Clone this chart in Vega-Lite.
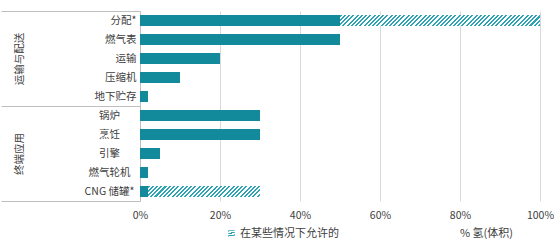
{
  "$schema": "https://vega.github.io/schema/vega-lite/v6.json",
  "width": 400,
  "height": 190,
  "padding": {"left": 0, "top": 10, "right": 0, "bottom": 0},
  "config": {
    "font": "Noto Sans CJK SC",
    "view": {"stroke": null},
    "axis": {"labelFont": "Noto Sans CJK SC", "titleFont": "Noto Sans CJK SC", "labelColor": "#404040", "titleColor": "#404040"}
  },
  "datasets": {
    "items": [
      {"item": "分配*", "group": "运输与配送", "solid": 0.5, "allowed": 1.0},
      {"item": "燃气表", "group": "运输与配送", "solid": 0.5, "allowed": null},
      {"item": "运输", "group": "运输与配送", "solid": 0.2, "allowed": null},
      {"item": "压缩机", "group": "运输与配送", "solid": 0.1, "allowed": null},
      {"item": "地下贮存", "group": "运输与配送", "solid": 0.02, "allowed": null},
      {"item": "锅炉", "group": "终端应用", "solid": 0.3, "allowed": null},
      {"item": "烹饪", "group": "终端应用", "solid": 0.3, "allowed": null},
      {"item": "引擎", "group": "终端应用", "solid": 0.05, "allowed": null},
      {"item": "燃气轮机", "group": "终端应用", "solid": 0.02, "allowed": null},
      {"item": "CNG 储罐*", "group": "终端应用", "solid": 0.02, "allowed": 0.3}
    ],
    "groups": [
      {"group": "运输与配送"},
      {"group": "终端应用"}
    ]
  },
  "layer": [
    {
      "data": {"name": "items"},
      "layer": [
        {
          "mark": {"type": "bar", "color": "#138A9B"},
          "encoding": {
            "y": {
              "field": "item", "type": "nominal", "sort": null,
              "scale": {"paddingInner": 0.42, "paddingOuter": 0.21},
              "axis": {
                "orient": "left", "title": null, "domain": false, "ticks": false,
                "labelFontSize": 10.5,
                "labelAlign": {"condition": {"test": "datum.value == '锅炉' || datum.value == '烹饪' || datum.value == '引擎' || datum.value == '燃气轮机' || datum.value == 'CNG 储罐*'", "value": "center"}, "value": "right"},
                "labelPadding": {"condition": {"test": "datum.value == '锅炉' || datum.value == '烹饪' || datum.value == '引擎' || datum.value == '燃气轮机' || datum.value == 'CNG 储罐*'", "value": 31}, "value": 4}
              }
            },
            "x": {
              "field": "solid", "type": "quantitative",
              "scale": {"domain": [0, 1], "nice": false},
              "axis": {
                "format": ".0%", "values": [0, 0.2, 0.4, 0.6, 0.8, 1],
                "grid": true, "gridColor": "#D9D9D9", "domain": false, "ticks": false,
                "labelFontSize": 10.5, "labelPadding": 9, "labelFlush": false, "labelOverlap": false,
                "title": "% 氢(体积)", "titleFontSize": 11, "titleFontWeight": "normal",
                "titleX": 346, "titleY": 32, "titleAlign": "center", "titleBaseline": "middle"
              }
            }
          }
        },
        {
          "transform": [{"filter": "datum.allowed != null"}],
          "mark": {"type": "bar", "strokeWidth": 0},
          "encoding": {
            "y": {"field": "item", "type": "nominal", "sort": null},
            "x": {"field": "solid", "type": "quantitative"},
            "x2": {"field": "allowed"},
            "fill": {
              "condition": {
                "test": "datum.item === '分配*'",
                "value": {"gradient": "linear", "x1": 0, "y1": 0, "x2": 1.06, "y2": 0.0584, "stops": [
                  {"offset":0,"color":"#2fa3b6"},{"offset":0.01,"color":"#2fa3b6"},{"offset":0.01,"color":"#fff"},{"offset":0.02,"color":"#fff"},
                  {"offset":0.02,"color":"#2fa3b6"},{"offset":0.03,"color":"#2fa3b6"},{"offset":0.03,"color":"#fff"},{"offset":0.04,"color":"#fff"},
                  {"offset":0.04,"color":"#2fa3b6"},{"offset":0.05,"color":"#2fa3b6"},{"offset":0.05,"color":"#fff"},{"offset":0.06,"color":"#fff"},
                  {"offset":0.06,"color":"#2fa3b6"},{"offset":0.07,"color":"#2fa3b6"},{"offset":0.07,"color":"#fff"},{"offset":0.08,"color":"#fff"},
                  {"offset":0.08,"color":"#2fa3b6"},{"offset":0.09,"color":"#2fa3b6"},{"offset":0.09,"color":"#fff"},{"offset":0.10,"color":"#fff"},
                  {"offset":0.10,"color":"#2fa3b6"},{"offset":0.11,"color":"#2fa3b6"},{"offset":0.11,"color":"#fff"},{"offset":0.12,"color":"#fff"},
                  {"offset":0.12,"color":"#2fa3b6"},{"offset":0.13,"color":"#2fa3b6"},{"offset":0.13,"color":"#fff"},{"offset":0.14,"color":"#fff"},
                  {"offset":0.14,"color":"#2fa3b6"},{"offset":0.15,"color":"#2fa3b6"},{"offset":0.15,"color":"#fff"},{"offset":0.16,"color":"#fff"},
                  {"offset":0.16,"color":"#2fa3b6"},{"offset":0.17,"color":"#2fa3b6"},{"offset":0.17,"color":"#fff"},{"offset":0.18,"color":"#fff"},
                  {"offset":0.18,"color":"#2fa3b6"},{"offset":0.19,"color":"#2fa3b6"},{"offset":0.19,"color":"#fff"},{"offset":0.20,"color":"#fff"},
                  {"offset":0.20,"color":"#2fa3b6"},{"offset":0.21,"color":"#2fa3b6"},{"offset":0.21,"color":"#fff"},{"offset":0.22,"color":"#fff"},
                  {"offset":0.22,"color":"#2fa3b6"},{"offset":0.23,"color":"#2fa3b6"},{"offset":0.23,"color":"#fff"},{"offset":0.24,"color":"#fff"},
                  {"offset":0.24,"color":"#2fa3b6"},{"offset":0.25,"color":"#2fa3b6"},{"offset":0.25,"color":"#fff"},{"offset":0.26,"color":"#fff"},
                  {"offset":0.26,"color":"#2fa3b6"},{"offset":0.27,"color":"#2fa3b6"},{"offset":0.27,"color":"#fff"},{"offset":0.28,"color":"#fff"},
                  {"offset":0.28,"color":"#2fa3b6"},{"offset":0.29,"color":"#2fa3b6"},{"offset":0.29,"color":"#fff"},{"offset":0.30,"color":"#fff"},
                  {"offset":0.30,"color":"#2fa3b6"},{"offset":0.31,"color":"#2fa3b6"},{"offset":0.31,"color":"#fff"},{"offset":0.32,"color":"#fff"},
                  {"offset":0.32,"color":"#2fa3b6"},{"offset":0.33,"color":"#2fa3b6"},{"offset":0.33,"color":"#fff"},{"offset":0.34,"color":"#fff"},
                  {"offset":0.34,"color":"#2fa3b6"},{"offset":0.35,"color":"#2fa3b6"},{"offset":0.35,"color":"#fff"},{"offset":0.36,"color":"#fff"},
                  {"offset":0.36,"color":"#2fa3b6"},{"offset":0.37,"color":"#2fa3b6"},{"offset":0.37,"color":"#fff"},{"offset":0.38,"color":"#fff"},
                  {"offset":0.38,"color":"#2fa3b6"},{"offset":0.39,"color":"#2fa3b6"},{"offset":0.39,"color":"#fff"},{"offset":0.40,"color":"#fff"},
                  {"offset":0.40,"color":"#2fa3b6"},{"offset":0.41,"color":"#2fa3b6"},{"offset":0.41,"color":"#fff"},{"offset":0.42,"color":"#fff"},
                  {"offset":0.42,"color":"#2fa3b6"},{"offset":0.43,"color":"#2fa3b6"},{"offset":0.43,"color":"#fff"},{"offset":0.44,"color":"#fff"},
                  {"offset":0.44,"color":"#2fa3b6"},{"offset":0.45,"color":"#2fa3b6"},{"offset":0.45,"color":"#fff"},{"offset":0.46,"color":"#fff"},
                  {"offset":0.46,"color":"#2fa3b6"},{"offset":0.47,"color":"#2fa3b6"},{"offset":0.47,"color":"#fff"},{"offset":0.48,"color":"#fff"},
                  {"offset":0.48,"color":"#2fa3b6"},{"offset":0.49,"color":"#2fa3b6"},{"offset":0.49,"color":"#fff"},{"offset":0.50,"color":"#fff"},
                  {"offset":0.50,"color":"#2fa3b6"},{"offset":0.51,"color":"#2fa3b6"},{"offset":0.51,"color":"#fff"},{"offset":0.52,"color":"#fff"},
                  {"offset":0.52,"color":"#2fa3b6"},{"offset":0.53,"color":"#2fa3b6"},{"offset":0.53,"color":"#fff"},{"offset":0.54,"color":"#fff"},
                  {"offset":0.54,"color":"#2fa3b6"},{"offset":0.55,"color":"#2fa3b6"},{"offset":0.55,"color":"#fff"},{"offset":0.56,"color":"#fff"},
                  {"offset":0.56,"color":"#2fa3b6"},{"offset":0.57,"color":"#2fa3b6"},{"offset":0.57,"color":"#fff"},{"offset":0.58,"color":"#fff"},
                  {"offset":0.58,"color":"#2fa3b6"},{"offset":0.59,"color":"#2fa3b6"},{"offset":0.59,"color":"#fff"},{"offset":0.60,"color":"#fff"},
                  {"offset":0.60,"color":"#2fa3b6"},{"offset":0.61,"color":"#2fa3b6"},{"offset":0.61,"color":"#fff"},{"offset":0.62,"color":"#fff"},
                  {"offset":0.62,"color":"#2fa3b6"},{"offset":0.63,"color":"#2fa3b6"},{"offset":0.63,"color":"#fff"},{"offset":0.64,"color":"#fff"},
                  {"offset":0.64,"color":"#2fa3b6"},{"offset":0.65,"color":"#2fa3b6"},{"offset":0.65,"color":"#fff"},{"offset":0.66,"color":"#fff"},
                  {"offset":0.66,"color":"#2fa3b6"},{"offset":0.67,"color":"#2fa3b6"},{"offset":0.67,"color":"#fff"},{"offset":0.68,"color":"#fff"},
                  {"offset":0.68,"color":"#2fa3b6"},{"offset":0.69,"color":"#2fa3b6"},{"offset":0.69,"color":"#fff"},{"offset":0.70,"color":"#fff"},
                  {"offset":0.70,"color":"#2fa3b6"},{"offset":0.71,"color":"#2fa3b6"},{"offset":0.71,"color":"#fff"},{"offset":0.72,"color":"#fff"},
                  {"offset":0.72,"color":"#2fa3b6"},{"offset":0.73,"color":"#2fa3b6"},{"offset":0.73,"color":"#fff"},{"offset":0.74,"color":"#fff"},
                  {"offset":0.74,"color":"#2fa3b6"},{"offset":0.75,"color":"#2fa3b6"},{"offset":0.75,"color":"#fff"},{"offset":0.76,"color":"#fff"},
                  {"offset":0.76,"color":"#2fa3b6"},{"offset":0.77,"color":"#2fa3b6"},{"offset":0.77,"color":"#fff"},{"offset":0.78,"color":"#fff"},
                  {"offset":0.78,"color":"#2fa3b6"},{"offset":0.79,"color":"#2fa3b6"},{"offset":0.79,"color":"#fff"},{"offset":0.80,"color":"#fff"},
                  {"offset":0.80,"color":"#2fa3b6"},{"offset":0.81,"color":"#2fa3b6"},{"offset":0.81,"color":"#fff"},{"offset":0.82,"color":"#fff"},
                  {"offset":0.82,"color":"#2fa3b6"},{"offset":0.83,"color":"#2fa3b6"},{"offset":0.83,"color":"#fff"},{"offset":0.84,"color":"#fff"},
                  {"offset":0.84,"color":"#2fa3b6"},{"offset":0.85,"color":"#2fa3b6"},{"offset":0.85,"color":"#fff"},{"offset":0.86,"color":"#fff"},
                  {"offset":0.86,"color":"#2fa3b6"},{"offset":0.87,"color":"#2fa3b6"},{"offset":0.87,"color":"#fff"},{"offset":0.88,"color":"#fff"},
                  {"offset":0.88,"color":"#2fa3b6"},{"offset":0.89,"color":"#2fa3b6"},{"offset":0.89,"color":"#fff"},{"offset":0.90,"color":"#fff"},
                  {"offset":0.90,"color":"#2fa3b6"},{"offset":0.91,"color":"#2fa3b6"},{"offset":0.91,"color":"#fff"},{"offset":0.92,"color":"#fff"},
                  {"offset":0.92,"color":"#2fa3b6"},{"offset":0.93,"color":"#2fa3b6"},{"offset":0.93,"color":"#fff"},{"offset":0.94,"color":"#fff"},
                  {"offset":0.94,"color":"#2fa3b6"},{"offset":0.95,"color":"#2fa3b6"},{"offset":0.95,"color":"#fff"},{"offset":0.96,"color":"#fff"},
                  {"offset":0.96,"color":"#2fa3b6"},{"offset":0.97,"color":"#2fa3b6"},{"offset":0.97,"color":"#fff"},{"offset":0.98,"color":"#fff"},
                  {"offset":0.98,"color":"#2fa3b6"},{"offset":0.99,"color":"#2fa3b6"},{"offset":0.99,"color":"#fff"},{"offset":1,"color":"#fff"}
                ]}
              },
              "value": {"gradient": "linear", "x1": 0, "y1": 0, "x2": 1.88, "y2": 0.185, "stops": [
                {"offset":0,"color":"#2fa3b6"},{"offset":0.01,"color":"#2fa3b6"},{"offset":0.01,"color":"#fff"},{"offset":0.02,"color":"#fff"},
                {"offset":0.02,"color":"#2fa3b6"},{"offset":0.03,"color":"#2fa3b6"},{"offset":0.03,"color":"#fff"},{"offset":0.04,"color":"#fff"},
                {"offset":0.04,"color":"#2fa3b6"},{"offset":0.05,"color":"#2fa3b6"},{"offset":0.05,"color":"#fff"},{"offset":0.06,"color":"#fff"},
                {"offset":0.06,"color":"#2fa3b6"},{"offset":0.07,"color":"#2fa3b6"},{"offset":0.07,"color":"#fff"},{"offset":0.08,"color":"#fff"},
                {"offset":0.08,"color":"#2fa3b6"},{"offset":0.09,"color":"#2fa3b6"},{"offset":0.09,"color":"#fff"},{"offset":0.10,"color":"#fff"},
                {"offset":0.10,"color":"#2fa3b6"},{"offset":0.11,"color":"#2fa3b6"},{"offset":0.11,"color":"#fff"},{"offset":0.12,"color":"#fff"},
                {"offset":0.12,"color":"#2fa3b6"},{"offset":0.13,"color":"#2fa3b6"},{"offset":0.13,"color":"#fff"},{"offset":0.14,"color":"#fff"},
                {"offset":0.14,"color":"#2fa3b6"},{"offset":0.15,"color":"#2fa3b6"},{"offset":0.15,"color":"#fff"},{"offset":0.16,"color":"#fff"},
                {"offset":0.16,"color":"#2fa3b6"},{"offset":0.17,"color":"#2fa3b6"},{"offset":0.17,"color":"#fff"},{"offset":0.18,"color":"#fff"},
                {"offset":0.18,"color":"#2fa3b6"},{"offset":0.19,"color":"#2fa3b6"},{"offset":0.19,"color":"#fff"},{"offset":0.20,"color":"#fff"},
                {"offset":0.20,"color":"#2fa3b6"},{"offset":0.21,"color":"#2fa3b6"},{"offset":0.21,"color":"#fff"},{"offset":0.22,"color":"#fff"},
                {"offset":0.22,"color":"#2fa3b6"},{"offset":0.23,"color":"#2fa3b6"},{"offset":0.23,"color":"#fff"},{"offset":0.24,"color":"#fff"},
                {"offset":0.24,"color":"#2fa3b6"},{"offset":0.25,"color":"#2fa3b6"},{"offset":0.25,"color":"#fff"},{"offset":0.26,"color":"#fff"},
                {"offset":0.26,"color":"#2fa3b6"},{"offset":0.27,"color":"#2fa3b6"},{"offset":0.27,"color":"#fff"},{"offset":0.28,"color":"#fff"},
                {"offset":0.28,"color":"#2fa3b6"},{"offset":0.29,"color":"#2fa3b6"},{"offset":0.29,"color":"#fff"},{"offset":0.30,"color":"#fff"},
                {"offset":0.30,"color":"#2fa3b6"},{"offset":0.31,"color":"#2fa3b6"},{"offset":0.31,"color":"#fff"},{"offset":0.32,"color":"#fff"},
                {"offset":0.32,"color":"#2fa3b6"},{"offset":0.33,"color":"#2fa3b6"},{"offset":0.33,"color":"#fff"},{"offset":0.34,"color":"#fff"},
                {"offset":0.34,"color":"#2fa3b6"},{"offset":0.35,"color":"#2fa3b6"},{"offset":0.35,"color":"#fff"},{"offset":0.36,"color":"#fff"},
                {"offset":0.36,"color":"#2fa3b6"},{"offset":0.37,"color":"#2fa3b6"},{"offset":0.37,"color":"#fff"},{"offset":0.38,"color":"#fff"},
                {"offset":0.38,"color":"#2fa3b6"},{"offset":0.39,"color":"#2fa3b6"},{"offset":0.39,"color":"#fff"},{"offset":0.40,"color":"#fff"},
                {"offset":0.40,"color":"#2fa3b6"},{"offset":0.41,"color":"#2fa3b6"},{"offset":0.41,"color":"#fff"},{"offset":0.42,"color":"#fff"},
                {"offset":0.42,"color":"#2fa3b6"},{"offset":0.43,"color":"#2fa3b6"},{"offset":0.43,"color":"#fff"},{"offset":0.44,"color":"#fff"},
                {"offset":0.44,"color":"#2fa3b6"},{"offset":0.45,"color":"#2fa3b6"},{"offset":0.45,"color":"#fff"},{"offset":0.46,"color":"#fff"},
                {"offset":0.46,"color":"#2fa3b6"},{"offset":0.47,"color":"#2fa3b6"},{"offset":0.47,"color":"#fff"},{"offset":0.48,"color":"#fff"},
                {"offset":0.48,"color":"#2fa3b6"},{"offset":0.49,"color":"#2fa3b6"},{"offset":0.49,"color":"#fff"},{"offset":0.50,"color":"#fff"},
                {"offset":0.50,"color":"#2fa3b6"},{"offset":0.51,"color":"#2fa3b6"},{"offset":0.51,"color":"#fff"},{"offset":0.52,"color":"#fff"},
                {"offset":0.52,"color":"#2fa3b6"},{"offset":0.53,"color":"#2fa3b6"},{"offset":0.53,"color":"#fff"},{"offset":0.54,"color":"#fff"},
                {"offset":0.54,"color":"#2fa3b6"},{"offset":0.55,"color":"#2fa3b6"},{"offset":0.55,"color":"#fff"},{"offset":0.56,"color":"#fff"},
                {"offset":0.56,"color":"#2fa3b6"},{"offset":0.57,"color":"#2fa3b6"},{"offset":0.57,"color":"#fff"},{"offset":0.58,"color":"#fff"},
                {"offset":0.58,"color":"#2fa3b6"},{"offset":0.59,"color":"#2fa3b6"},{"offset":0.59,"color":"#fff"},{"offset":0.60,"color":"#fff"},
                {"offset":1,"color":"#fff"}
              ]}
            },
            "stroke": {
              "datum": "在某些情况下允许的",
              "scale": {"range": ["#2fa3b6"]},
              "legend": {
                "orient": "none", "legendX": 86, "legendY": 217, "title": null,
                "symbolType": "square", "symbolSize": 42, "symbolStrokeWidth": 0,
                "labelFontSize": 11, "labelColor": "#404040", "labelOffset": 3,
                "encode": {"symbols": {"update": {"fill": {"value": {"gradient": "linear", "x1": 0, "y1": 0, "x2": 1, "y2": 1, "stops": [
                  {"offset": 0, "color": "#2fa3b6"}, {"offset": 0.4, "color": "#2fa3b6"}, {"offset": 0.4, "color": "#fff"},
                  {"offset": 0.6, "color": "#fff"}, {"offset": 0.6, "color": "#2fa3b6"}, {"offset": 1, "color": "#2fa3b6"}
                ]}}, "strokeWidth": {"value": 0}}}}
              }
            }
          }
        }
      ]
    },
    {
      "data": {"name": "groups"},
      "mark": {"type": "text", "opacity": 0},
      "encoding": {
        "y": {
          "field": "group", "type": "nominal", "sort": null,
          "scale": {"type": "band", "paddingInner": 0, "paddingOuter": 0},
          "axis": {
            "orient": "left", "title": null,
            "domain": true, "domainColor": "#BFBFBF",
            "ticks": true, "tickBand": "extent", "tickExtra": true, "tickSize": 139, "tickColor": "#BFBFBF",
            "labelAngle": 270, "labelAlign": "center", "labelBaseline": "middle",
            "labelPadding": -18, "labelFontSize": 10.5
          }
        },
        "text": {"field": "group"}
      }
    }
  ],
  "resolve": {"scale": {"y": "independent"}, "axis": {"y": "independent"}}
}
